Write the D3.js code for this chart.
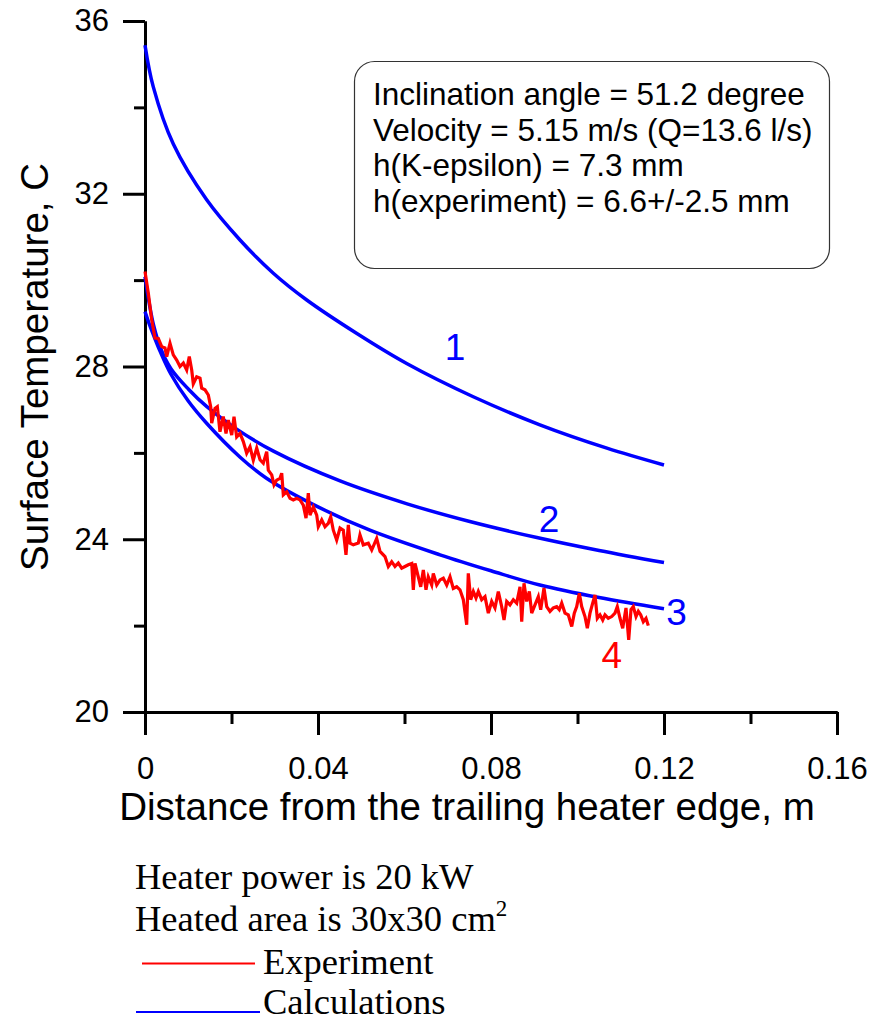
<!DOCTYPE html>
<html>
<head>
<meta charset="utf-8">
<script src="https://cdn.jsdelivr.net/npm/d3@7"></script>
<style>
  body { margin: 0; background: #fff; }
  svg { display: block; }
</style>
</head>
<body>
<svg id="chart" width="871" height="1021"></svg>
<script>
// ---------- data ----------
const xMajorTicks = [0, 0.04, 0.08, 0.12, 0.16];
const xMinorTicks = [0.02, 0.06, 0.10, 0.14];
const xTickLabels = ["0", "0.04", "0.08", "0.12", "0.16"];
const yMajorTicks = [20, 24, 28, 32, 36];
const yMinorTicks = [22, 26, 30, 34];
const yTickLabels = ["20", "24", "28", "32", "36"];

// calculated curves [distance m, temperature C]
const calc1 = [[0,35.44],[0.0019,34.48],[0.00655,33.15],[0.01426,31.86],[0.02197,30.93],[0.02967,30.16],
  [0.0374,29.54],[0.0489,28.77],[0.0605,28.07],[0.0759,27.30],[0.0913,26.65],[0.1068,26.11],[0.12,25.72]];
const calc2 = [[0,30.08],[0.001,29.45],[0.002,28.95],[0.0035,28.45],[0.006,27.95],[0.01,27.48],[0.0143,27.07],
  [0.0212,26.55],[0.0297,26.04],[0.0451,25.35],[0.0606,24.82],[0.0751,24.41],[0.0906,24.04],[0.105,23.74],[0.12,23.46]];
const calc3 = [[0,29.27],[0.001,28.98],[0.002,28.72],[0.0035,28.35],[0.006,27.82],[0.01,27.2],[0.0143,26.68],
  [0.022,25.9],[0.028,25.42],[0.04,24.75],[0.052,24.21],[0.0682,23.64],[0.08,23.27],[0.0913,22.94],[0.105,22.65],[0.12,22.39]];

// experiment
const expX = [0,0.00076,0.00155,0.00231,0.00308,0.00386,0.00462,0.00502,0.00578,0.00654,0.00733,0.00809,0.00886,0.00964,
  0.01024,0.0108,0.01117,0.01195,0.01272,0.01311,0.01387,0.01464,0.01519,0.01542,0.01618,0.01672,0.01734,0.0181,0.01873,
  0.01926,0.02005,0.02058,0.0212,0.02197,0.02273,0.02351,0.02428,0.02504,0.02583,
  0.02659,0.02735,0.02814,0.02851,0.0293,0.02983,0.03045,0.03121,0.03161,0.03198,0.03276,0.03353,0.03429,0.03507,0.03584,
  0.0366,0.03723,0.03776,0.03815,0.03891,0.0397,0.04007,0.04086,0.04162,0.04238,0.04294,0.04354,0.04432,0.04509,0.04585,
  0.04647,0.04701,0.0474,0.04816,0.04932,0.04971,0.05047,0.05163,0.05242,0.05357,0.05434,0.05549,0.05626,0.05704,0.0578,0.05857,
  0.05935,0.06012,0.06088,0.06167,0.06204,0.06243,0.06319,0.06375,0.06435,0.06497,0.0655,0.06629,0.06666,0.06745,0.06821,
  0.06897,0.06976,0.07052,0.07128,0.07207,0.07283,0.0736,0.07438,0.07475,0.07531,0.07591,0.07653,0.07707,0.07785,0.07861,
  0.07938,0.08016,0.08092,0.08169,0.08247,0.08301,0.08363,0.08439,0.08516,0.08594,
  0.08671,0.0871,0.08763,0.08825,0.08886,0.08941,0.09017,0.09094,0.09149,0.09225,0.09288,0.09364,0.09441,0.09519,0.09579,
  0.09635,0.09711,0.09787,0.09866,0.09926,0.09982,0.10042,0.10097,0.10173,0.10227,0.10289,0.10351,0.10405,0.10458,0.1052,
  0.10583,0.10636,0.10712,0.10791,0.10867,0.1092,0.10983,0.11045,0.11121,0.11184,0.11237,0.1129,0.11353,0.11406,0.11461,
  0.11522,0.11584,0.11637];
const expT = [30.2,29.7,29.08,28.66,28.65,28.46,28.43,28.23,28.54,28.27,28.15,28.0,28.08,27.92,
  28.23,27.92,27.6,27.76,27.73,27.5,27.46,27.34,27.07,26.69,27.03,27.07,26.49,26.84,26.45,
  26.76,26.41,26.84,26.37,26.45,26.26,25.99,26.14,25.83,26.11,
  25.84,25.76,26.03,25.6,25.49,25.26,25.37,25.41,25.53,25.03,25.1,24.95,24.91,24.95,24.91,
  24.79,24.49,25.07,24.56,24.75,24.56,24.29,24.45,24.29,24.37,24.52,24.21,23.98,24.26,24.21,
  23.64,24.33,23.91,23.87,23.91,24.1,23.87,23.91,23.75,24.02,23.72,23.6,23.37,23.48,23.37,23.45,
  23.33,23.37,23.41,23.44,22.83,23.44,23.13,22.9,23.29,22.83,23.13,22.94,23.21,22.94,23.06,
  23.1,22.94,23.13,22.86,22.9,22.83,22.6,22.02,23.21,22.6,22.79,22.64,22.79,22.6,22.67,
  22.29,22.56,22.41,22.79,22.44,22.13,22.56,22.48,22.6,22.52,
  22.9,22.09,22.98,22.56,22.79,22.29,22.48,22.67,22.37,22.87,22.44,22.33,22.41,22.44,22.37,
  22.52,22.29,22.25,21.98,22.29,22.44,22.75,22.44,22.21,21.94,22.29,22.52,22.71,22.17,22.25,
  22.13,22.25,22.17,22.21,22.29,22.44,22.17,21.94,22.41,21.67,22.37,22.44,22.21,22.33,22.25,
  22.09,22.17,22.0];

const curveLabels = [{t:"1", x:0.0717, y:28.15, c:"#0000ff"}, {t:"2", x:0.0934, y:24.17, c:"#0000ff"},
  {t:"3", x:0.1229, y:22.02, c:"#0000ff"}, {t:"4", x:0.1079, y:21.02, c:"#ff0000"}];
const infoLines = ["Inclination angle = 51.2 degree", "Velocity = 5.15 m/s (Q=13.6 l/s)",
  "h(K-epsilon) = 7.3 mm", "h(experiment) = 6.6+/-2.5 mm"];

// ---------- drawing ----------
const svg = d3.select("#chart");
const x = d3.scaleLinear().domain([0, 0.16]).range([145, 837]);
const y = d3.scaleLinear().domain([20, 36]).range([712, 21]);
const SANS = "'Liberation Sans', Arial, sans-serif";
const SERIF = "'Liberation Serif', 'Times New Roman', serif";

function styleAxis(g) {
  g.selectAll("path.domain").attr("stroke", "#000").attr("stroke-width", 3);
  g.selectAll(".tick line").attr("stroke", "#000").attr("stroke-width", 3);
  g.selectAll(".tick text").attr("font-family", SANS).attr("font-size", 31).attr("fill", "#000");
}

// y axis
const gy = svg.append("g").attr("transform", "translate(145,0)")
  .call(d3.axisLeft(y).tickValues(yMajorTicks).tickSize(22).tickSizeOuter(0).tickPadding(14)
    .tickFormat((d, i) => yTickLabels[i]));
styleAxis(gy);
const gy2 = svg.append("g").attr("transform", "translate(145,0)")
  .call(d3.axisLeft(y).tickValues(yMinorTicks).tickSize(11).tickSizeOuter(0).tickFormat(""));
styleAxis(gy2);

// x axis
const gx = svg.append("g").attr("transform", "translate(0,712)")
  .call(d3.axisBottom(x).tickValues(xMajorTicks).tickSize(23).tickSizeOuter(0).tickPadding(22)
    .tickFormat((d, i) => xTickLabels[i]));
styleAxis(gx);
const gx2 = svg.append("g").attr("transform", "translate(0,712)")
  .call(d3.axisBottom(x).tickValues(xMinorTicks).tickSize(12).tickSizeOuter(0).tickFormat(""));
styleAxis(gx2);

// axis titles
svg.append("text").attr("x", 467).attr("y", 820).attr("text-anchor", "middle")
  .attr("font-family", SANS).attr("font-size", 38.5).text("Distance from the trailing heater edge, m");
svg.append("text").attr("transform", "translate(48,367) rotate(-90)").attr("text-anchor", "middle")
  .attr("font-family", SANS).attr("font-size", 38.5).text("Surface Temperature, C");

// curves
const line = d3.line().x(d => x(d[0])).y(d => y(d[1])).curve(d3.curveCatmullRom.alpha(0.5));
[calc1, calc2, calc3].forEach(c => {
  svg.append("path").datum(c).attr("d", line).attr("fill", "none")
    .attr("stroke", "#0000ff").attr("stroke-width", 3.5);
});
const expData = expX.map((v, i) => [v, expT[i]]);
svg.append("path").datum(expData)
  .attr("d", d3.line().x(d => x(d[0])).y(d => y(d[1])))
  .attr("fill", "none").attr("stroke", "#ff0000").attr("stroke-width", 3.2).attr("stroke-linejoin", "miter");

// curve number labels
svg.selectAll("text.clabel").data(curveLabels).enter().append("text").attr("class", "clabel")
  .attr("x", d => x(d.x)).attr("y", d => y(d.y)).attr("text-anchor", "middle")
  .attr("font-family", SANS).attr("font-size", 37).attr("fill", d => d.c).text(d => d.t);

// info box
svg.append("rect").attr("x", 354.5).attr("y", 61.5).attr("width", 475).attr("height", 207)
  .attr("rx", 20).attr("ry", 20).attr("fill", "#fff").attr("stroke", "#333").attr("stroke-width", 1.2);
svg.selectAll("text.info").data(infoLines).enter().append("text").attr("class", "info")
  .attr("x", 373).attr("y", (d, i) => 105 + i * 35.7)
  .attr("font-family", SANS).attr("font-size", 31.5).attr("fill", "#000").text(d => d);

// bottom legend
svg.append("text").attr("x", 135).attr("y", 889).attr("font-family", SERIF).attr("font-size", 36.5).text("Heater power is 20 kW");
const t2 = svg.append("text").attr("x", 135).attr("y", 931).attr("font-family", SERIF).attr("font-size", 36.5);
t2.append("tspan").text("Heated area is 30x30 cm");
t2.append("tspan").attr("font-size", 23).attr("dy", -15).text("2");
svg.append("line").attr("x1", 142).attr("x2", 255).attr("y1", 963.5).attr("y2", 963.5).attr("stroke", "#ff0000").attr("stroke-width", 2);
svg.append("text").attr("x", 263).attr("y", 974).attr("font-family", SERIF).attr("font-size", 36.5).text("Experiment");
svg.append("line").attr("x1", 136).attr("x2", 260).attr("y1", 1012).attr("y2", 1012).attr("stroke", "#0000ff").attr("stroke-width", 2);
svg.append("text").attr("x", 263).attr("y", 1014).attr("font-family", SERIF).attr("font-size", 36.5).text("Calculations");
</script>
</body>
</html>
